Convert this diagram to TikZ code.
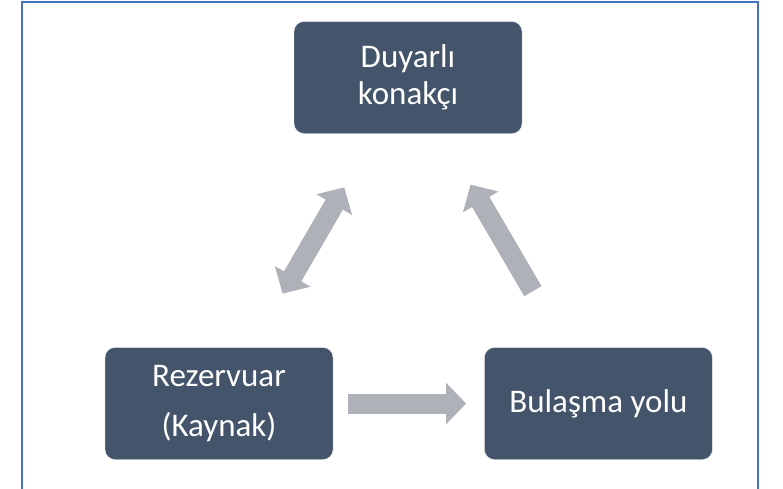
\documentclass[tikz,border=0pt]{standalone}
\usepackage{fontspec}
\setmainfont{Carlito}
\usetikzlibrary{positioning,arrows.meta}
\definecolor{boxblue}{HTML}{44546A}
\definecolor{arrowgray}{HTML}{AEB1B8}
\definecolor{frameblue}{HTML}{4472C4}

\begin{document}
\begin{tikzpicture}[x=1pt,y=-1pt,font=\fontsize{33}{37}\selectfont,>={Triangle[length=20pt,width=40pt]}]
            \tikzstyle{stage}=[rectangle,rounded corners=10pt,fill=boxblue,draw=white!85!gray,text=white,minimum width=228pt,minimum height=112pt,align=center]
            \tikzstyle{flow}=[draw=arrowgray,line width=20pt]
            \useasboundingbox (0,0) rectangle (783,488);
            \draw[frameblue,line width=2pt] (22,489) -- (22,2) -- (758,2) -- (758,489);
            \node(duy)[stage] at (408,77.5) {Duyarlı\\konakçı};
            \node(rez)[stage] at (219,403.5) {Rezervuar\\[13pt](Kaynak)};
            \node(bul)[stage,right=151pt of rez] {Bulaşma yolu};
            \draw[flow,->,shorten <=15pt,shorten >=18pt] (rez) -- (bul);
            \draw[flow,<->,shorten <=62pt,shorten >=62pt] (rez) -- (duy);
            \draw[flow,->,shorten <=65pt,shorten >=59pt] (bul) -- (duy);
          \end{tikzpicture}
\end{document}
